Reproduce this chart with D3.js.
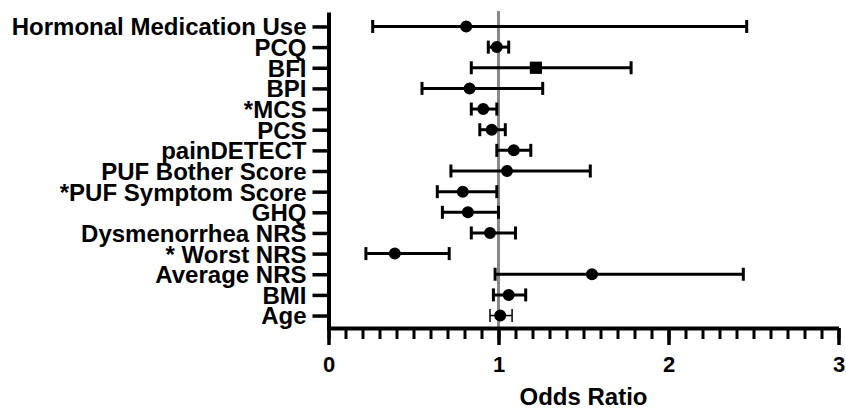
<!DOCTYPE html>
<html>
<head>
<meta charset="utf-8">
<script src="https://cdn.jsdelivr.net/npm/d3@7"></script>
<style>
  body { margin: 0; background: #fff; }
  text { font-family: "Liberation Sans", Arial, sans-serif; font-weight: bold; fill: #000; }
</style>
</head>
<body>
<div id="chart"></div>
<script>
// rows, top to bottom
var labels = ["Hormonal Medication Use", "PCQ", "BFI", "BPI", "*MCS", "PCS", "painDETECT",
    "PUF Bother Score", "*PUF Symptom Score", "GHQ", "Dysmenorrhea NRS", "* Worst NRS",
    "Average NRS", "BMI", "Age"];
var oddsRatio = [0.81, 0.99, 1.22, 0.83, 0.91, 0.96, 1.09, 1.05, 0.79, 0.82, 0.95, 0.39, 1.55, 1.06, 1.01];
var ciLow    = [0.26, 0.94, 0.84, 0.55, 0.84, 0.89, 0.99, 0.72, 0.64, 0.67, 0.84, 0.22, 0.98, 0.97, 0.95];
var ciHigh   = [2.46, 1.06, 1.78, 1.26, 0.99, 1.04, 1.19, 1.54, 0.99, 1.00, 1.10, 0.71, 2.44, 1.16, 1.08];
var markers  = ["circle", "circle", "square", "circle", "circle", "circle", "circle", "circle",
    "circle", "circle", "circle", "circle", "circle", "circle", "circle"];
var xTicks = [0, 1, 2, 3];
var xTitle = "Odds Ratio";

var width = 846, height = 410;
var rows = labels.map((l, i) => ({label: l, or: oddsRatio[i], lo: ciLow[i], hi: ciHigh[i], shape: markers[i]}));

var svg = d3.select("#chart").append("svg")
    .attr("width", width)
    .attr("height", height);

var x = d3.scaleLinear().domain([0, 3]).range([328.5, 838.5]);
var y = d3.scalePoint().domain(labels).range([12, 330]).padding(0.7);
var axisY = 328;

// reference line at OR = 1
svg.append("line")
    .attr("x1", x(1)).attr("x2", x(1))
    .attr("y1", 11).attr("y2", axisY)
    .attr("stroke", "#888")
    .attr("stroke-width", 3);

// minor ticks
var minor = svg.append("g")
    .attr("transform", "translate(0," + axisY + ")")
    .call(d3.axisBottom(x).tickValues(x.ticks(30)).tickSize(11).tickFormat(""));
minor.select(".domain").remove();
minor.selectAll("line").attr("stroke-width", 3);

// major x axis
var gx = svg.append("g")
    .attr("transform", "translate(0," + axisY + ")")
    .call(d3.axisBottom(x).tickValues(xTicks).tickSize(17).tickSizeOuter(0).tickPadding(11).tickFormat(d3.format("d")));
gx.select(".domain").attr("stroke-width", 4);
gx.selectAll("line").attr("stroke-width", 3.5);
gx.selectAll("text").style("font-size", "22px");

// y axis
var gy = svg.append("g")
    .attr("transform", "translate(" + x(0) + ",0)")
    .call(d3.axisLeft(y).tickSize(16).tickSizeOuter(0).tickPadding(6));
gy.select(".domain").attr("stroke-width", 4);
gy.selectAll("line").attr("stroke-width", 3.5);
gy.selectAll("text").style("font-size", "24px").attr("dy", "0.35em");

svg.append("text")
    .attr("x", x(1.5))
    .attr("y", 405)
    .attr("text-anchor", "middle")
    .style("font-size", "24px")
    .text(xTitle);

// error bars
var bars = svg.append("g").selectAll("g")
    .data(rows)
    .join("g")
    .attr("stroke", "#000")
    .attr("stroke-width", d => d.label == "Age" ? 1.5 : 3);

bars.append("line")
    .attr("x1", d => x(d.lo)).attr("x2", d => x(d.hi))
    .attr("y1", d => y(d.label)).attr("y2", d => y(d.label));
bars.append("line")
    .attr("x1", d => x(d.lo)).attr("x2", d => x(d.lo))
    .attr("y1", d => y(d.label) - 6.5).attr("y2", d => y(d.label) + 6.5);
bars.append("line")
    .attr("x1", d => x(d.hi)).attr("x2", d => x(d.hi))
    .attr("y1", d => y(d.label) - 6.5).attr("y2", d => y(d.label) + 6.5);

// markers
svg.append("g").selectAll("path")
    .data(rows)
    .join("path")
    .attr("transform", d => "translate(" + x(d.or) + "," + y(d.label) + ")")
    .attr("d", d => d3.symbol(d.shape == "square" ? d3.symbolSquare : d3.symbolCircle, d.shape == "square" ? 150 : 113)())
    .attr("fill", "#000");
</script>
</body>
</html>
